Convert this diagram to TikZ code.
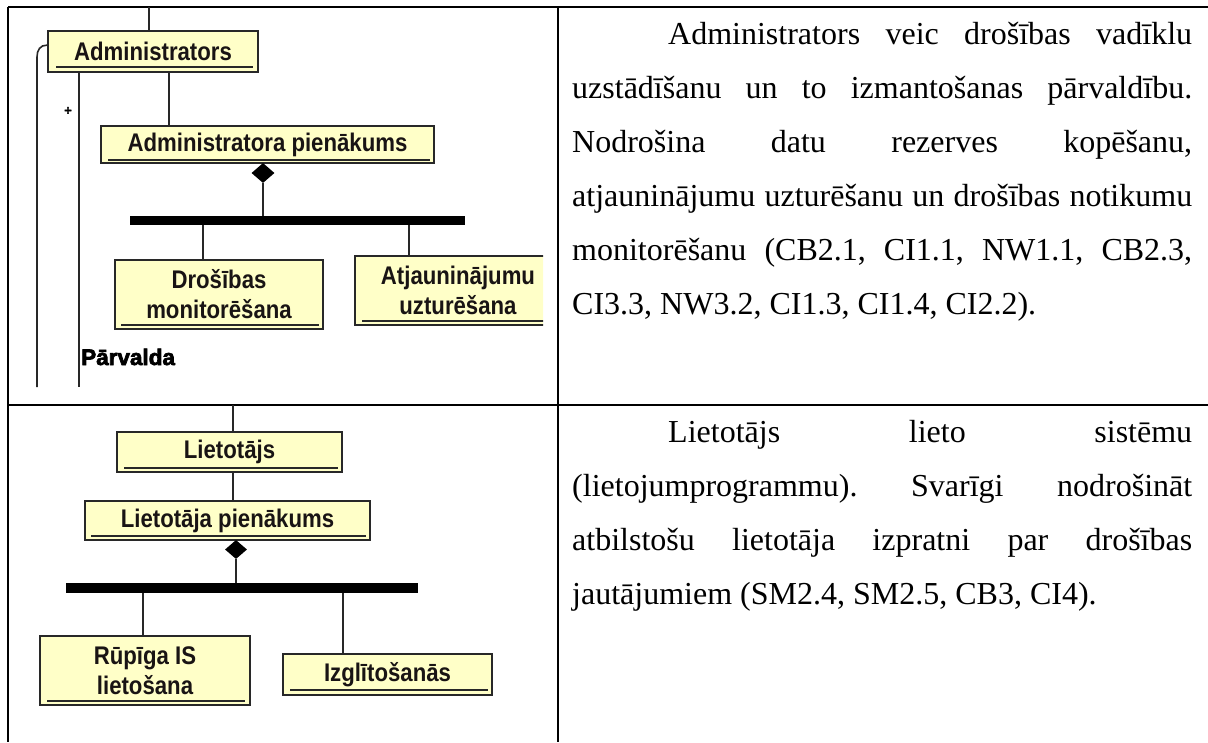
\documentclass[tikz,border=0pt]{standalone}
\usepackage{fontspec}
\setmainfont{Liberation Serif}
\newfontfamily\diafont[FakeStretch=0.87]{Liberation Sans Bold}
\newfontfamily\pvfont[FakeBold=3]{Liberation Sans Bold}
\usetikzlibrary{shapes.geometric}
\definecolor{boxfill}{RGB}{255,255,200}
\definecolor{boxline}{RGB}{40,40,40}
\definecolor{linec}{RGB}{40,40,40}
\definecolor{txt}{RGB}{25,20,20}
\tikzset{
  umlbox/.style={draw=boxline, fill=boxfill, line width=1.8pt, inner sep=0pt,
    font=\diafont\fontsize{25.5}{30}\selectfont, text=txt, align=center},
  link/.style={draw=linec, line width=1.6pt},
  uline/.style={draw=linec, line width=1.6pt},
  barnode/.style={fill=black, draw=none, inner sep=0pt},
  agg/.style={diamond, fill=black, draw=none, inner sep=0pt},
  tabline/.style={draw=black, line width=1.5pt},
  bodytext/.style={anchor=base west, inner sep=0pt, font=\frenchspacing\fontsize{32}{54}\selectfont}
}
\begin{document}
\begin{tikzpicture}[x=1pt,y=-1pt]
\useasboundingbox (0,0) rectangle (1208,742);
\fill[white] (0,0) rectangle (1208,742);

% table lines
\coordinate (tl) at (8,7);
\coordinate (tr) at (1208,7);
\coordinate (ml) at (8,405);
\coordinate (mr) at (1208,405);
\coordinate (bl) at (8,742);
\coordinate (ct) at (558,7);
\coordinate (cb) at (558,742);
\draw[tabline] (tl) -- (tr);
\draw[tabline] (ml) -- (mr);
\draw[tabline] (tl) -- (bl);
\draw[tabline] (ct) -- (cb);

% ---------- top diagram ----------
\node[umlbox, minimum width=210pt, minimum height=41pt] (adm) at (153,51.5) {Administrators};
\node[umlbox, minimum width=333pt, minimum height=37pt] (admp) at (267.5,144.5) {Administratora pienākums};
\node[agg, minimum width=23pt, minimum height=20pt] (d1) at (263,173) {};
\node[barnode, minimum width=335pt, minimum height=9pt] (bar1) at (297.5,220.5) {};
\node[umlbox, minimum width=208pt, minimum height=69pt] (dros) at (219,294.5) {Drošības\\monitorēšana};
\begin{scope}
\clip (0,0) rectangle (543,400);
\node[umlbox, minimum width=206pt, minimum height=69pt] (atj) at (458,290.5) {Atjauninājumu\\uzturēšana};
\draw[uline] ([xshift=8pt,yshift=5pt]atj.south west) -- ([xshift=-8pt,yshift=5pt]atj.south east);
\end{scope}
\draw[uline] ([xshift=9pt,yshift=6pt]adm.south west) -- ([xshift=-6pt,yshift=6pt]adm.south east);
\draw[uline] ([xshift=8pt,yshift=4pt]admp.south west) -- ([xshift=-5pt,yshift=4pt]admp.south east);
\draw[uline] ([xshift=7pt,yshift=5pt]dros.south west) -- ([xshift=-5pt,yshift=5pt]dros.south east);

\coordinate (top1) at (149,7);
\draw[link] (top1) -- (top1 |- adm.north);
\draw[link] ([xshift=16pt]adm.south) -- ([xshift=16pt]adm.south |- admp.north);
\draw[link] (d1.south) -- (d1.south |- bar1.north);
\draw[link] ([xshift=-16pt]dros.north |- bar1.south) -- ([xshift=-16pt]dros.north);
\draw[link] ([xshift=-49pt]atj.north |- bar1.south) -- ([xshift=-49pt]atj.north);

\coordinate (e1) at (79,387);
\coordinate (e2) at (37,387);
\draw[link] (e1 |- adm.south) -- (e1);
\draw[link] ([yshift=-15pt]adm.north west) .. controls +(-7,0) and +(0,-7) .. (37,57) -- (e2);
\node[font=\pvfont\fontsize{13}{13}\selectfont, inner sep=0pt] (plus) at (68,111) {+};
\node[anchor=base west, inner sep=0pt, font=\pvfont\fontsize{22.5}{22.5}\selectfont, text=black] (pv) at (81,365) {Pārvalda};

% ---------- bottom diagram ----------
\node[umlbox, minimum width=225pt, minimum height=40pt] (liet) at (229.5,452) {Lietotājs};
\node[umlbox, minimum width=285pt, minimum height=39pt] (lietp) at (227.5,520.5) {Lietotāja pienākums};
\node[agg, minimum width=22pt, minimum height=19pt] (d2) at (236,549.5) {};
\node[barnode, minimum width=352pt, minimum height=10pt] (bar2) at (242,588) {};
\node[umlbox, minimum width=210pt, minimum height=69pt] (rup) at (145,670.5) {Rūpīga IS\\lietošana};
\node[umlbox, minimum width=209pt, minimum height=41pt] (izg) at (387.5,674.5) {Izglītošanās};
\draw[uline] ([xshift=8pt,yshift=5pt]liet.south west) -- ([xshift=-5pt,yshift=5pt]liet.south east);
\draw[uline] ([xshift=7pt,yshift=5pt]lietp.south west) -- ([xshift=-5pt,yshift=5pt]lietp.south east);
\draw[uline] ([xshift=8pt,yshift=5pt]rup.south west) -- ([xshift=-6pt,yshift=5pt]rup.south east);
\draw[uline] ([xshift=8pt,yshift=6pt]izg.south west) -- ([xshift=-5pt,yshift=6pt]izg.south east);

\coordinate (top2) at (233,405);
\draw[link] (top2) -- (top2 |- liet.north);
\draw[link] ([xshift=3.5pt]liet.south) -- ([xshift=3.5pt]liet.south |- lietp.north);
\draw[link] (d2.south) -- (d2.south |- bar2.north);
\draw[link] ([xshift=-2pt]rup.north |- bar2.south) -- ([xshift=-2pt]rup.north);
\draw[link] ([xshift=-44.5pt]izg.north |- bar2.south) -- ([xshift=-44.5pt]izg.north);

% ---------- right column text ----------
\node[bodytext] (a1) at (572,44) {\makebox[620pt][s]{\hspace*{96pt}Administrators veic drošības vadīklu}};
\node[bodytext] (a2) at (572,98) {\makebox[620pt][s]{uzstādīšanu un to izmantošanas pārvaldību.}};
\node[bodytext] (a3) at (572,152) {\makebox[620pt][s]{Nodrošina datu rezerves kopēšanu,}};
\node[bodytext] (a4) at (572,206) {\makebox[620pt][s]{atjauninājumu uzturēšanu un drošības notikumu}};
\node[bodytext] (a5) at (572,260) {\makebox[620pt][s]{monitorēšanu (CB2.1, CI1.1, NW1.1, CB2.3,}};
\node[bodytext] (a6) at (572,314) {CI3.3, NW3.2, CI1.3, CI1.4, CI2.2).};

\node[bodytext] (b1) at (572,442) {\makebox[620pt][s]{\hspace*{96pt}Lietotājs lieto sistēmu}};
\node[bodytext] (b2) at (572,496) {\makebox[620pt][s]{(lietojumprogrammu). Svarīgi nodrošināt}};
\node[bodytext] (b3) at (572,550) {\makebox[620pt][s]{atbilstošu lietotāja izpratni par drošības}};
\node[bodytext] (b4) at (572,604) {jautājumiem (SM2.4, SM2.5, CB3, CI4).};
\end{tikzpicture}
\end{document}
